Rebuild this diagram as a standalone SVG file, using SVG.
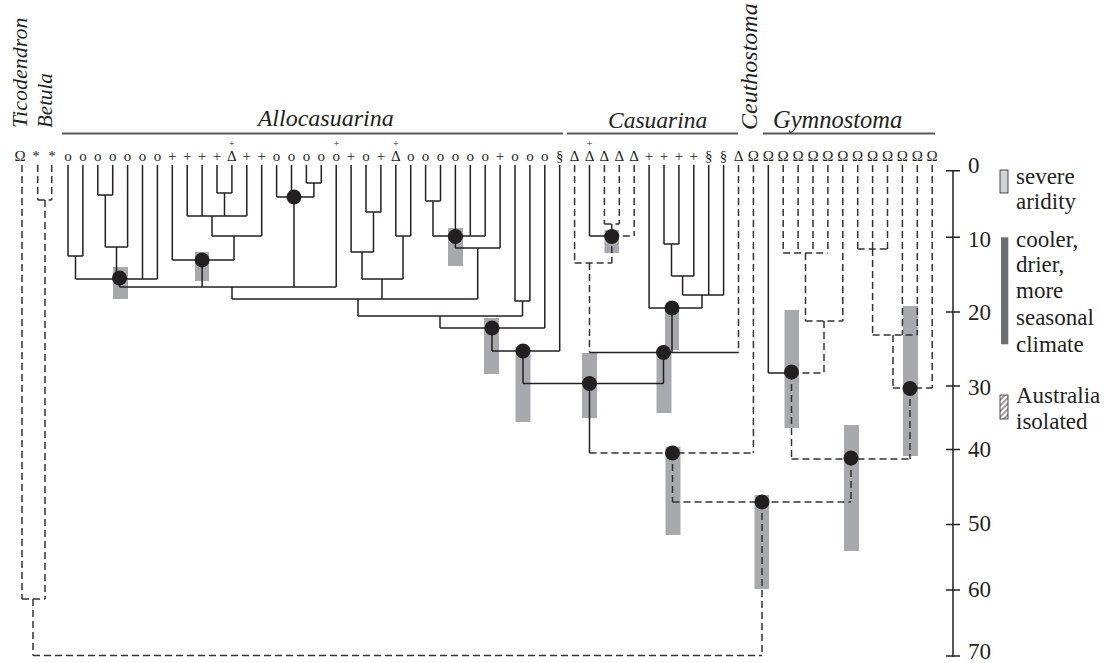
<svg xmlns="http://www.w3.org/2000/svg" width="1106" height="663" viewBox="0 0 1106 663">
<style>
.s{stroke:#231f20;stroke-width:1.5;fill:none}
.d{stroke:#333;stroke-width:1.5;fill:none;stroke-dasharray:7 4}
.bar{fill:#a7a9ac}
.dot{fill:#231f20}
.tip{font-size:15px;fill:#231f20;text-anchor:middle}
.sup{font-size:10px;fill:#231f20;text-anchor:middle}
.ttl{font-style:italic;fill:#231f20}
.ax{font-size:23px;fill:#231f20}
.lg{font-size:23px;fill:#231f20}
.gb{stroke:#58595b;stroke-width:2}
</style>
<defs>
<pattern id="hatch" width="4" height="4" patternUnits="userSpaceOnUse" patternTransform="rotate(-45)">
<rect width="4" height="4" fill="#fff"/>
<line x1="0" y1="2" x2="4" y2="2" stroke="#231f20" stroke-width="0.9"/>
</pattern>
</defs>

<g id="group-labels" font-family="'Liberation Serif', 'Times New Roman', serif">
<text class="ttl" font-size="22" transform="translate(27,128) rotate(-90)">Ticodendron</text>
<text class="ttl" font-size="21" transform="translate(51.5,128) rotate(-90)">Betula</text>
<text class="ttl" font-size="24" x="257.7" y="126">Allocasuarina</text>
<line class="gb" x1="62" y1="133.5" x2="563" y2="133.5"/>
<text class="ttl" font-size="23.5" x="608" y="128">Casuarina</text>
<line class="gb" x1="567" y1="133.5" x2="738" y2="133.5"/>
<text class="ttl" font-size="24" transform="translate(757,130) rotate(-90)">Ceuthostoma</text>
<text class="ttl" font-size="24.5" x="773" y="128">Gymnostoma</text>
<line class="gb" x1="763" y1="133.5" x2="935" y2="133.5"/>
</g>

<g id="tips" font-family="'Liberation Serif', 'Times New Roman', serif">
<text class="tip" x="20" y="161">Ω</text>
<text class="tip" x="36" y="161">*</text>
<text class="tip" x="52" y="161">*</text>
<text class="tip" x="68" y="161">o</text>
<text class="tip" x="82.9" y="161">o</text>
<text class="tip" x="97.8" y="161">o</text>
<text class="tip" x="112.7" y="161">o</text>
<text class="tip" x="127.6" y="161">o</text>
<text class="tip" x="142.5" y="161">o</text>
<text class="tip" x="157.4" y="161">o</text>
<text class="tip" x="172.3" y="161">+</text>
<text class="tip" x="187.2" y="161">+</text>
<text class="tip" x="202.1" y="161">+</text>
<text class="tip" x="217" y="161">+</text>
<text class="tip" x="231.9" y="161">Δ</text>
<text class="sup" x="231.9" y="147">+</text>
<text class="tip" x="246.8" y="161">+</text>
<text class="tip" x="261.7" y="161">+</text>
<text class="tip" x="276.6" y="161">o</text>
<text class="tip" x="291.5" y="161">o</text>
<text class="tip" x="306.4" y="161">o</text>
<text class="tip" x="321.3" y="161">o</text>
<text class="tip" x="336.2" y="161">o</text>
<text class="sup" x="336.2" y="147">+</text>
<text class="tip" x="351.1" y="161">+</text>
<text class="tip" x="366" y="161">o</text>
<text class="tip" x="380.9" y="161">+</text>
<text class="tip" x="395.8" y="161">Δ</text>
<text class="sup" x="395.8" y="147">+</text>
<text class="tip" x="410.7" y="161">o</text>
<text class="tip" x="425.6" y="161">o</text>
<text class="tip" x="440.5" y="161">o</text>
<text class="tip" x="455.4" y="161">o</text>
<text class="tip" x="470.3" y="161">o</text>
<text class="tip" x="485.2" y="161">o</text>
<text class="tip" x="500.1" y="161">+</text>
<text class="tip" x="515" y="161">o</text>
<text class="tip" x="529.9" y="161">o</text>
<text class="tip" x="544.8" y="161">o</text>
<text class="tip" x="559.7" y="161">§</text>
<text class="tip" x="574.6" y="161">Δ</text>
<text class="tip" x="589.5" y="161">Δ</text>
<text class="sup" x="589.5" y="147">+</text>
<text class="tip" x="604.4" y="161">Δ</text>
<text class="tip" x="619.3" y="161">Δ</text>
<text class="tip" x="634.2" y="161">Δ</text>
<text class="tip" x="649.1" y="161">+</text>
<text class="tip" x="664" y="161">+</text>
<text class="tip" x="678.9" y="161">+</text>
<text class="tip" x="693.8" y="161">+</text>
<text class="tip" x="708.7" y="161">§</text>
<text class="tip" x="723.6" y="161">§</text>
<text class="tip" x="738.5" y="161">Δ</text>
<text class="tip" x="753.4" y="161">Ω</text>
<text class="tip" x="768.3" y="161">Ω</text>
<text class="tip" x="783.2" y="161">Ω</text>
<text class="tip" x="798.1" y="161">Ω</text>
<text class="tip" x="813" y="161">Ω</text>
<text class="tip" x="827.9" y="161">Ω</text>
<text class="tip" x="842.8" y="161">Ω</text>
<text class="tip" x="857.7" y="161">Ω</text>
<text class="tip" x="872.6" y="161">Ω</text>
<text class="tip" x="887.5" y="161">Ω</text>
<text class="tip" x="902.4" y="161">Ω</text>
<text class="tip" x="917.3" y="161">Ω</text>
<text class="tip" x="932.2" y="161">Ω</text>
</g>

<g id="bars">
<rect class="bar" x="113" y="267" width="15" height="32"/>
<rect class="bar" x="195" y="252" width="14" height="29"/>
<rect class="bar" x="448" y="228" width="15" height="38"/>
<rect class="bar" x="484" y="318" width="15" height="56"/>
<rect class="bar" x="515.5" y="347" width="15" height="75"/>
<rect class="bar" x="582" y="353" width="15" height="65"/>
<rect class="bar" x="604.5" y="230" width="14.5" height="23"/>
<rect class="bar" x="665" y="310" width="14" height="40"/>
<rect class="bar" x="656.5" y="353" width="15" height="60"/>
<rect class="bar" x="665.5" y="447" width="15" height="88"/>
<rect class="bar" x="754.5" y="495" width="14.5" height="94"/>
<rect class="bar" x="784.5" y="310" width="14.5" height="118"/>
<rect class="bar" x="844" y="425" width="15" height="126"/>
<rect class="bar" x="903" y="306" width="15" height="150"/>
</g>

<g id="connectors">
<path class="s" d="M68 165V256M82.9 165V256M68 256H82.9M75.5 256V279M97.8 165V195M112.7 165V195M97.8 195H112.7M105.3 195V247M127.6 165V247M105.3 247H127.6M116.5 247V279M142.5 165V279M157.4 165V279M75.5 279H157.4M119.5 279V287M119.5 287H336.2"/>
<path class="s" d="M172.3 165V260M187.2 165V216M202.1 165V216M217 165V193M231.9 165V193M217 193H231.9M224.5 193V216M246.8 165V216M187.2 216H246.8M212 216V236M261.7 165V236M212 236H261.7M234 236V260M172.3 260H234M202.1 260V287"/>
<path class="s" d="M276.6 165V197M291.5 165V197M306.4 165V183M321.3 165V183M306.4 183H321.3M313.9 183V197M276.6 197H313.9M294 197V287M336.2 165V287M232 287V299M232 299H477.7"/>
<path class="s" d="M351.1 165V252M366 165V212M380.9 165V212M366 212H380.9M373.5 212V252M351.1 252H373.5M362 252V279M395.8 165V236M410.7 165V236M395.8 236H410.7M403 236V279M362 279H403M382 279V299"/>
<path class="s" d="M425.6 165V201M440.5 165V201M425.6 201H440.5M433 201V236M455.4 165V236M470.3 165V236M485.2 165V236M433 236H485.2M455.4 236V248M500.1 165V248M455.4 248H500.1M477.7 248V299"/>
<path class="s" d="M358 299V316M515 165V301M529.9 165V301M515 301H529.9M522.5 301V316M358 316H522.5M440 316V328M544.8 165V328M440 328H544.8M492 328V351M559.7 165V351M492 351H559.7M523 351V383.5M523 383.5H663.5M589.5 383.5V453"/>
<path class="s" d="M589.5 165V236M589.5 236H611.8M649.1 165V308M664 165V244M678.9 165V244M664 244H678.9M671.5 244V276M693.8 165V276M671.5 276H693.8M682.6 276V295M708.7 165V295M723.6 165V295M682.6 295H723.6M702 295V308M649.1 308H702M672 308V352.5M589.5 352.5H738.5M663.5 352.5V383.5"/>
<path class="s" d="M768.3 165V373M768.3 373H791.5"/>
<path class="d" d="M22 165V599M37.7 165V200M51.7 165V200M37.7 200H51.7M45 200V599M22 599H45M33 599V655.5M33 655.5H762"/>
<path class="d" d="M574.6 165V263M604.4 165V224M619.3 165V224M604.4 224H619.3M611.8 224V263M634.2 165V236M611.8 236H634.2M574.6 263H611.8M589.5 263V352.5M738.5 165V352.5"/>
<path class="d" d="M589.5 453H753.4M753.4 165V453M672.5 453V502M672.5 502H851M762 502V655.5"/>
<path class="d" d="M783.2 165V253M798.1 165V253M813 165V253M827.9 165V253M783.2 253H827.9M805.5 253V321M842.8 165V321M805.5 321H842.8M824 321V373M791.5 373H824M791.5 373V459M791.5 459H910M851 459V502"/>
<path class="d" d="M857.7 165V249M872.6 165V249M887.5 165V249M857.7 249H887.5M872.6 249V335M902.4 165V335M917.3 165V335M872.6 335H917.3M893 335V388M932.2 165V388M893 388H932.2M910 388V459"/>
</g>

<g id="node-1"><circle class="dot" cx="119.5" cy="278" r="7.5"/></g>
<g id="node-2"><circle class="dot" cx="202.1" cy="260" r="7.5"/></g>
<g id="node-3"><circle class="dot" cx="294" cy="197" r="7.5"/></g>
<g id="node-4"><circle class="dot" cx="455.4" cy="236.5" r="7.5"/></g>
<g id="node-5"><circle class="dot" cx="492" cy="328" r="7.5"/></g>
<g id="node-6"><circle class="dot" cx="523" cy="351" r="7.5"/></g>
<g id="node-7"><circle class="dot" cx="589.5" cy="383.5" r="7.5"/></g>
<g id="node-8"><circle class="dot" cx="611.8" cy="236.5" r="7.5"/></g>
<g id="node-9"><circle class="dot" cx="672" cy="308" r="7.5"/></g>
<g id="node-10"><circle class="dot" cx="663.5" cy="352.5" r="7.5"/></g>
<g id="node-11"><circle class="dot" cx="672.5" cy="453" r="7.5"/></g>
<g id="node-12"><circle class="dot" cx="762" cy="502" r="7.5"/></g>
<g id="node-13"><circle class="dot" cx="791.5" cy="372" r="7.5"/></g>
<g id="node-14"><circle class="dot" cx="851" cy="458" r="7.5"/></g>
<g id="node-15"><circle class="dot" cx="910" cy="388.5" r="7.5"/></g>

<g id="axis" font-family="'Liberation Serif', 'Times New Roman', serif">
<path class="s" d="M953 170.7V657M946 170.7H960M946 237.3H960M946 312H960M946 386H960M946 449.5H960M946 524.5H960M946 590H960M946 656H960"/>
<text class="ax" x="968" y="173">0</text>
<text class="ax" x="968" y="247">10</text>
<text class="ax" x="968" y="320">20</text>
<text class="ax" x="968" y="395">30</text>
<text class="ax" x="968" y="457">40</text>
<text class="ax" x="968" y="531">50</text>
<text class="ax" x="968" y="597">60</text>
<text class="ax" x="968" y="659">70</text>
</g>

<g id="legend" font-family="'Liberation Serif', 'Times New Roman', serif">
<rect x="1000" y="170" width="8" height="23" fill="#d1d3d4" stroke="#231f20" stroke-width="0.8"/>
<rect x="1001" y="237.3" width="7.3" height="107" fill="#6d6e71"/>
<rect x="1000" y="395" width="8" height="24" fill="url(#hatch)" stroke="#231f20" stroke-width="0.8"/>
<text class="lg" x="1016" y="183.5">severe</text>
<text class="lg" x="1016" y="208.5">aridity</text>
<text class="lg" x="1016" y="246.5">cooler,</text>
<text class="lg" x="1016" y="271.5">drier,</text>
<text class="lg" x="1016" y="298">more</text>
<text class="lg" x="1016" y="325">seasonal</text>
<text class="lg" x="1016" y="351.5">climate</text>
<text class="lg" x="1016" y="403">Australia</text>
<text class="lg" x="1016" y="429">isolated</text>
</g>
</svg>
